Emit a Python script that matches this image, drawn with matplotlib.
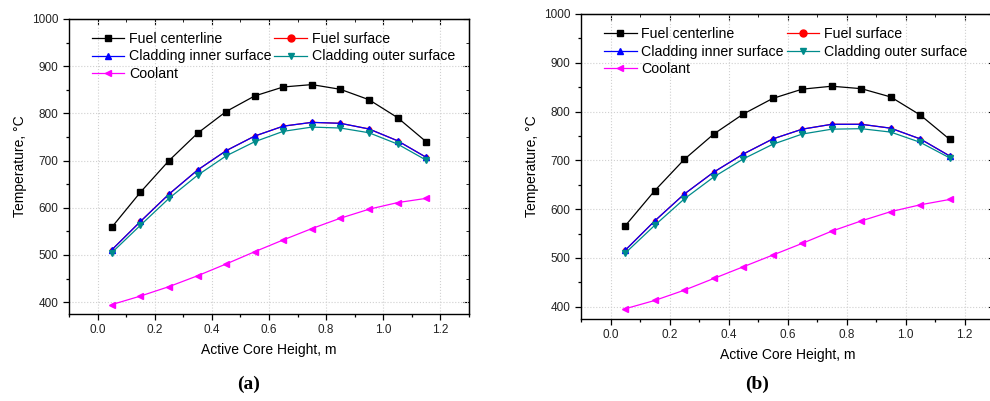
import numpy as np
import matplotlib.pyplot as plt
from matplotlib.lines import Line2D
from matplotlib.ticker import MultipleLocator

plt.rcParams['font.family'] = ['Liberation Sans', 'DejaVu Sans']

# axial positions (m)
height = [0.05, 0.15, 0.25, 0.35, 0.45, 0.55, 0.65, 0.75, 0.85, 0.95, 1.05, 1.15]

# panel (a)
a_centerline = [559, 633, 700, 758, 804, 837, 856, 861, 851, 829, 791, 740]
a_fuel_surf = [511, 571, 629, 680, 721, 752, 773, 781, 779, 767, 742, 707]
a_clad_in = [511, 571, 629, 680, 721, 752, 773, 781, 779, 767, 742, 707]
a_clad_out = [505, 563, 620, 669, 710, 740, 762, 771, 769, 759, 735, 701]
a_coolant = [395, 413, 433, 456, 481, 507, 532, 556, 578, 597, 611, 620]

# panel (b)
b_centerline = [566, 638, 702, 754, 795, 827, 846, 852, 847, 830, 793, 743]
b_fuel_surf = [516, 576, 631, 676, 713, 744, 764, 774, 774, 766, 744, 709]
b_clad_in = [516, 576, 631, 676, 713, 744, 764, 774, 774, 766, 744, 709]
b_clad_out = [510, 567, 621, 666, 703, 733, 754, 764, 765, 758, 737, 705]
b_coolant = [396, 413, 434, 458, 482, 506, 530, 555, 576, 595, 609, 620]

names = ["Fuel centerline", "Fuel surface", "Cladding inner surface",
         "Cladding outer surface", "Coolant"]
colors = ["black", "red", "blue", "#008b8b", "magenta"]
markers = ["s", "o", "^", "v", "<"]
msizes = [5, 3, 5, 5, 5]

fig = plt.figure(figsize=(9.9, 4.01), dpi=100)
W, H = 990, 401


def draw(rect, series, tag, tag_x):
    l, t, r, b = rect
    ax = fig.add_axes([l / W, 1 - b / H, (r - l) / W, (b - t) / H])
    for ys, c, m, ms, n in zip(series, colors, markers, msizes, names):
        ax.plot(height, ys, color=c, marker=m, markersize=ms, lw=0.9, label=n)
    ax.set_xlim(-0.1, 1.3)
    ax.set_ylim(375, 1000)
    ax.xaxis.set_major_locator(MultipleLocator(0.2))
    ax.xaxis.set_minor_locator(MultipleLocator(0.1))
    ax.yaxis.set_major_locator(MultipleLocator(100))
    ax.yaxis.set_minor_locator(MultipleLocator(50))
    ax.xaxis.set_major_formatter(plt.FuncFormatter(lambda v, p: f"{v:.1f}"))
    ax.grid(True, which='major', ls=':', color='#d0d0d0', lw=0.8)
    ax.tick_params(which='both', direction='out', labelsize=8.5, width=0.9,
                   labelcolor='#222222')
    ax.tick_params(which='major', length=4)
    ax.tick_params(which='minor', length=2.5)
    sec = ax.secondary_yaxis('right')
    sec.yaxis.set_major_locator(MultipleLocator(100))
    sec.yaxis.set_minor_locator(MultipleLocator(50))
    sec.tick_params(which='both', direction='in', labelright=False)
    sec.tick_params(which='major', length=4)
    sec.tick_params(which='minor', length=2.5)
    secx = ax.secondary_xaxis('top')
    secx.xaxis.set_major_locator(MultipleLocator(0.2))
    secx.xaxis.set_minor_locator(MultipleLocator(0.1))
    secx.tick_params(which='both', direction='in', labeltop=False)
    secx.tick_params(which='major', length=4)
    secx.tick_params(which='minor', length=2.5)
    for s in ax.spines.values():
        s.set_linewidth(1.0)
    ax.set_xlabel("Active Core Height, m", fontsize=10, labelpad=5)
    ax.set_ylabel("Temperature, °C", fontsize=10)
    # legend keys with full-size markers
    keys = [Line2D([], [], color=c, marker=m, markersize=5, lw=0.9)
            for c, m in zip(colors, markers)]
    order = [0, 2, 4, 1, 3]
    ax.legend([keys[i] for i in order], [names[i] for i in order], ncol=2,
              loc='upper left', bbox_to_anchor=(0.035, 0.985), frameon=False,
              fontsize=10.2, handlelength=2.3, handletextpad=0.35,
              columnspacing=0.2, labelspacing=0.25, borderaxespad=0.2)
    fig.text(tag_x / W, 1 - 384 / H, tag, fontsize=14, ha='center', va='center',
             fontweight='bold', family=['Liberation Serif', 'DejaVu Serif'])


draw((69, 19, 469, 314),
     [a_centerline, a_fuel_surf, a_clad_in, a_clad_out, a_coolant], "(a)", 249)
draw((581, 14, 994, 319),
     [b_centerline, b_fuel_surf, b_clad_in, b_clad_out, b_coolant], "(b)", 757)

fig.savefig("out.png", dpi=100)
